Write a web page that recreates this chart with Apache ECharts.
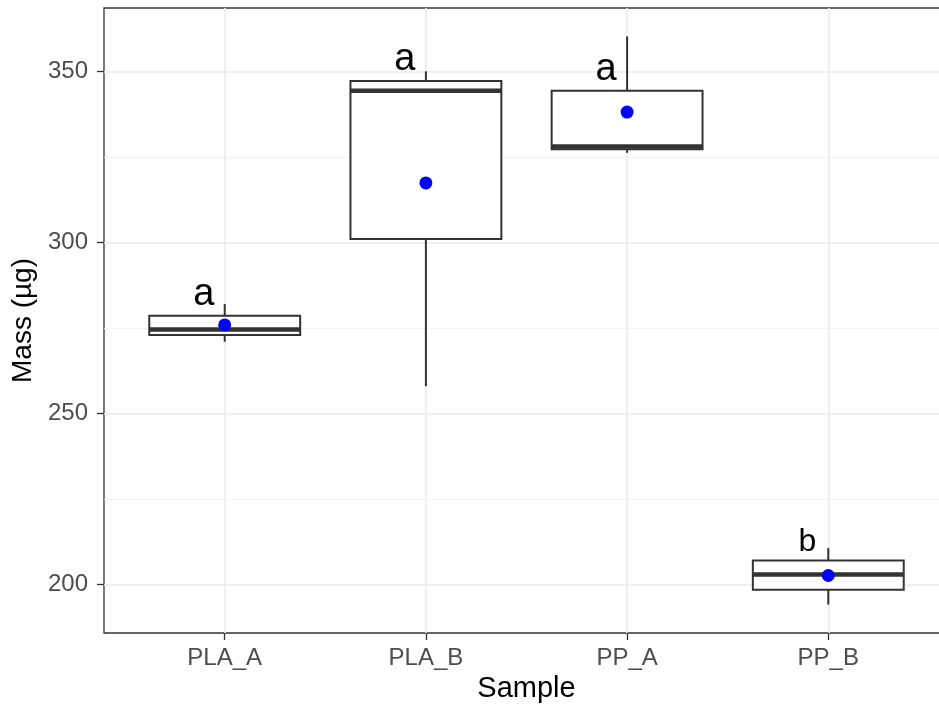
<!DOCTYPE html>
<html>
<head>
<meta charset="utf-8">
<script src="https://cdn.jsdelivr.net/npm/echarts@6/dist/echarts.min.js"></script>
<style>
html,body{margin:0;padding:0;background:#ffffff;}
#chart{width:939px;height:711px;overflow:hidden;}
</style>
</head>
<body>
<div id="chart"></div>
<script>
// ---------- data ----------
const categories   = ['PLA_A', 'PLA_B', 'PP_A', 'PP_B'];
const whiskerLow   = [271.0, 258.0, 326.2, 194.2];
const q1           = [273.0, 301.0, 327.2, 198.5];
const median       = [274.6, 344.3, 328.0, 203.0];
const q3           = [278.6, 347.2, 344.3, 207.1];
const whiskerHigh  = [282.0, 350.0, 360.2, 210.7];
const means        = [275.9, 317.4, 338.1, 202.7];
const groupLetters = ['a', 'a', 'a', 'b'];
const yTicks       = [200, 250, 300, 350];
const yMinorGrid   = [225, 275, 325];

// ---------- styling ----------
const FONT = '"Liberation Sans", Arial, Helvetica, sans-serif';
const BOX_WIDTH = 0.75;           // in category units
const LETTER_FONT = {a: 38, b: 32};

const positions = categories.map((c, i) => i + 1);
const lo = Math.min(...whiskerLow), hi = Math.max(...whiskerHigh);
const pad = (hi - lo) * 0.05;
const yMin = lo - pad, yMax = hi + pad;

const boxData = categories.map((c, i) => [i + 1, whiskerLow[i], q1[i], median[i], q3[i], whiskerHigh[i], i]);
const meanData = categories.map((c, i) => [i + 1, means[i]]);

const chart = echarts.init(document.getElementById('chart'), null, {renderer: 'canvas'});

const option = {
  animation: false,
  backgroundColor: '#ffffff',
  grid: {left: 104, right: -10, top: 8, bottom: 78, show: true,
         outerBoundsMode: 'none', containLabel: false,
         borderColor: '#333333', borderWidth: 1.3, backgroundColor: 'transparent'},
  xAxis: {
    type: 'value', min: 0.4, max: 4.6,
    axisLine: {show: false},
    axisTick: {show: true, length: 7, customValues: positions, lineStyle: {color: '#333333', width: 1.3}},
    axisLabel: {customValues: positions, formatter: v => categories[Math.round(v) - 1] || '',
                color: '#4D4D4D', fontSize: 24, fontFamily: FONT, margin: 13},
    splitLine: {show: true, lineStyle: {color: '#EBEBEB', width: 1.6}},
    name: 'Sample', nameLocation: 'middle', nameGap: 38,
    nameTextStyle: {color: '#000000', fontSize: 29, fontFamily: FONT}
  },
  yAxis: [
    {
      type: 'value', min: yMin, max: yMax,
      axisLine: {show: false},
      axisTick: {show: true, length: 7, customValues: yTicks, lineStyle: {color: '#333333', width: 1.3}},
      axisLabel: {customValues: yTicks, color: '#4D4D4D', fontSize: 24, fontFamily: FONT, margin: 16},
      splitLine: {show: true, lineStyle: {color: '#EBEBEB', width: 1.6}},
      name: 'Mass (µg)', nameLocation: 'middle', nameGap: 62, nameRotate: 90,
      nameTextStyle: {color: '#000000', fontSize: 28, fontFamily: FONT}
    },
    {
      type: 'value', min: yMin, max: yMax, position: 'left',
      axisLine: {show: false},
      axisTick: {show: false, customValues: yMinorGrid},
      axisLabel: {show: false, customValues: yMinorGrid},
      splitLine: {show: true, lineStyle: {color: '#F2F2F2', width: 0.9}}
    }
  ],
  series: [
    {
      type: 'custom',
      xAxisIndex: 0, yAxisIndex: 0,
      z: 3,
      data: boxData,
      renderItem: function (params, api) {
        const x = api.value(0);
        const pLow = api.coord([x, api.value(1)]);
        const pQ1 = api.coord([x, api.value(2)]);
        const pMed = api.coord([x, api.value(3)]);
        const pQ3 = api.coord([x, api.value(4)]);
        const pHigh = api.coord([x, api.value(5)]);
        const w = api.size([BOX_WIDTH, 0])[0];
        const left = pQ1[0] - w / 2, right = pQ1[0] + w / 2;
        const letter = groupLetters[api.value(6)];
        const fs = LETTER_FONT[letter] || 34;
        const stroke = '#333333';
        return {
          type: 'group',
          children: [
            {type: 'line', shape: {x1: pQ3[0], y1: pQ3[1], x2: pHigh[0], y2: pHigh[1]},
             style: {stroke: stroke, lineWidth: 2}},
            {type: 'line', shape: {x1: pQ1[0], y1: pQ1[1], x2: pLow[0], y2: pLow[1]},
             style: {stroke: stroke, lineWidth: 2}},
            {type: 'rect', shape: {x: left, y: pQ3[1], width: right - left, height: pQ1[1] - pQ3[1]},
             style: {fill: '#ffffff', stroke: stroke, lineWidth: 2}},
            {type: 'line', shape: {x1: left, y1: pMed[1], x2: right, y2: pMed[1]},
             style: {stroke: stroke, lineWidth: 4.5, lineCap: 'butt'}},
            {type: 'text',
             style: {text: letter, x: pQ3[0] - 21, y: pQ3[1] - 0.26 * fs - 0.31 * fs,
                     fill: '#000000', font: fs + 'px ' + FONT, align: 'center', verticalAlign: 'middle'}}
          ]
        };
      }
    },
    {
      type: 'scatter',
      xAxisIndex: 0, yAxisIndex: 0,
      z: 5,
      data: meanData,
      symbol: 'circle',
      symbolSize: 13,
      itemStyle: {color: '#0000FF', opacity: 1}
    }
  ]
};
chart.setOption(option);
</script>
</body>
</html>
